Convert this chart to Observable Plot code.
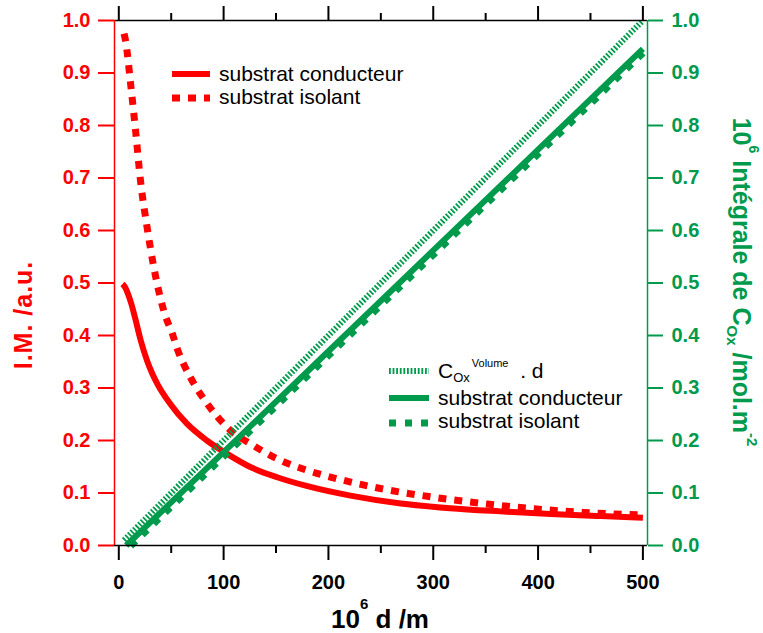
<!DOCTYPE html>
<html><head><meta charset="utf-8">
<script src="https://cdn.jsdelivr.net/npm/d3@7"></script>
<script src="https://cdn.jsdelivr.net/npm/@observablehq/plot@0.6"></script>
<style>body{margin:0;background:#fff} svg{display:block}</style>
</head><body><div id="chart"></div>
<script>
// ---- data ----
// I.M. /a.u. (left axis, red)
const dCond = [3.5, 6, 9, 12, 16, 21, 27, 32, 37, 49, 65, 84, 103, 126, 151, 180, 221, 269, 316, 364, 412, 460, 500];
const imCond = [0.498, 0.492, 0.478, 0.46, 0.43, 0.39, 0.352, 0.327, 0.307, 0.27, 0.232, 0.2, 0.175, 0.149, 0.13, 0.113, 0.095, 0.08, 0.071, 0.065, 0.06, 0.056, 0.053];
const dIso = [5, 6.4, 11.3, 16, 20.7, 27, 33.4, 44, 51, 55.7, 68.4, 84.4, 103.4, 128.8, 154.3, 180, 214.7, 259, 300, 351.5, 396, 443.7, 500];
const imIso = [0.975, 0.962, 0.879, 0.79, 0.695, 0.606, 0.53, 0.44, 0.404, 0.375, 0.32, 0.27, 0.225, 0.19, 0.162, 0.143, 0.124, 0.105, 0.092, 0.079, 0.07, 0.063, 0.058];
// 10^6 Intégrale de C_Ox /mol.m^-2 (right axis, green)
const dVol = [5, 100, 200, 300, 400, 500];
const cVol = [0.01, 0.2, 0.4, 0.6, 0.8, 1.0];
const dIntCond = [7, 100, 200, 300, 400, 500];
const cIntCond = [0.0, 0.178, 0.37, 0.562, 0.754, 0.946];
const dIntIso = [11, 100, 200, 300, 400, 500];
const cIntIso = [0.0, 0.171, 0.363, 0.555, 0.747, 0.939];
// ticks
const xTicks = [0, 100, 200, 300, 400, 500];
const xMinor = [50, 150, 250, 350, 450];
const yTicks = [0, 0.1, 0.2, 0.3, 0.4, 0.5, 0.6, 0.7, 0.8, 0.9, 1.0];
// texts
const redLegend = ["substrat conducteur", "substrat isolant"];
const greenLegend = ["substrat conducteur", "substrat isolant"];

const RED = "#ff0000", GREEN = "#009a4c";
const FONT = "'Liberation Sans', Arial, Helvetica, sans-serif";
const rows = (xs, ys) => xs.map((d, i) => ({d, v: ys[i]}));
const xDomain = [-4.1, 504.4];

const plot = Plot.plot({
  width: 763, height: 633,
  marginLeft: 114, marginRight: 116, marginTop: 20, marginBottom: 88,
  x: {domain: xDomain},
  y: {domain: [0, 1]},
  style: {fontFamily: FONT, background: "#fff", overflow: "visible"},
  marks: [
    Plot.line(rows(dIso, imIso), {x: "d", y: "v", stroke: RED, strokeWidth: 7, strokeDasharray: "8,8", strokeLinecap: "butt", curve: "monotone-x"}),
    Plot.line(rows(dCond, imCond), {x: "d", y: "v", stroke: RED, strokeWidth: 6, strokeLinecap: "butt", curve: "monotone-x"}),
    Plot.line(rows(dIntIso, cIntIso), {x: "d", y: "v", stroke: GREEN, strokeWidth: 8, strokeDasharray: "7,9", strokeLinecap: "butt"}),
    Plot.line(rows(dIntCond, cIntCond), {x: "d", y: "v", stroke: GREEN, strokeWidth: 6, strokeLinecap: "butt"}),
    Plot.line(rows(dVol, cVol), {x: "d", y: "v", stroke: GREEN, strokeWidth: 6, strokeDasharray: "1.8,1.8", strokeLinecap: "butt"}),
    // frame
    Plot.ruleY([0], {stroke: "black", strokeWidth: 1.5}),
    Plot.ruleY([1], {stroke: "black", strokeWidth: 1.5}),
    Plot.ruleX([xDomain[0]], {stroke: RED, strokeWidth: 1.5}),
    Plot.ruleX([xDomain[1]], {stroke: GREEN, strokeWidth: 1.5}),
    // axes
    Plot.axisX({anchor: "bottom", ticks: xTicks, tickSize: 15, tickPadding: 14, strokeWidth: 2, color: "black", fontSize: 20, fontWeight: "bold", label: null}),
    Plot.axisX({anchor: "bottom", ticks: xMinor, tickSize: 8, strokeWidth: 2, stroke: "black", fill: "none", label: null}),
    Plot.axisX({anchor: "top", ticks: xTicks, tickSize: 15, strokeWidth: 2, stroke: "black", fill: "none", label: null}),
    Plot.axisX({anchor: "top", ticks: xMinor, tickSize: 8, strokeWidth: 2, stroke: "black", fill: "none", label: null}),
    Plot.axisY({anchor: "left", ticks: yTicks, tickSize: 16, tickPadding: 8, strokeWidth: 2, color: RED, tickFormat: d3.format(".1f"), fontSize: 20, fontWeight: "bold", label: null}),
    Plot.axisY({anchor: "right", ticks: yTicks, tickSize: 15, tickPadding: 9, strokeWidth: 2, color: GREEN, tickFormat: d3.format(".1f"), fontSize: 20, fontWeight: "bold", label: null})
  ]
});
document.getElementById("chart").appendChild(plot);

const svg = d3.select(plot);
const g = svg.append("g").attr("font-family", FONT).attr("text-anchor", "start");

// x-axis title
const xt = g.append("text").attr("x", 380).attr("y", 628).attr("text-anchor", "middle")
  .attr("font-size", 26).attr("font-weight", "bold").attr("fill", "black");
xt.append("tspan").text("10");
xt.append("tspan").attr("font-size", 15).attr("dy", -19).text("6");
xt.append("tspan").attr("dy", 19).text(" d /m");

// left axis title
g.append("text").attr("transform", "translate(32,315) rotate(-90)").attr("text-anchor", "middle")
  .attr("font-size", 25).attr("font-weight", "bold").attr("fill", RED).attr("letter-spacing", 1).text("I.M. /a.u.");

// right axis title
const rt = g.append("text").attr("transform", "translate(733,282) rotate(90)").attr("text-anchor", "middle")
  .attr("font-size", 25).attr("font-weight", "bold").attr("fill", GREEN);
rt.append("tspan").text("10");
rt.append("tspan").attr("font-size", 14).attr("dy", -16).text("6");
rt.append("tspan").attr("dy", 16).text(" Intégrale de C");
rt.append("tspan").attr("font-size", 15).attr("dy", 6).text("Ox");
rt.append("tspan").attr("dy", -6).text(" /mol.m");
rt.append("tspan").attr("font-size", 15).attr("dy", -14).text("-2");

// red legend
const leg = g.append("g").attr("font-size", 21).attr("fill", "black").attr("text-anchor", "start");
leg.append("line").attr("x1", 172).attr("x2", 210).attr("y1", 74).attr("y2", 74).attr("stroke", RED).attr("stroke-width", 6);
leg.append("line").attr("x1", 172).attr("x2", 210).attr("y1", 98).attr("y2", 98).attr("stroke", RED).attr("stroke-width", 7).attr("stroke-dasharray", "8,8");
leg.append("text").attr("x", 219).attr("y", 81).text(redLegend[0]);
leg.append("text").attr("x", 219).attr("y", 104).text(redLegend[1]);

// green legend
leg.append("line").attr("x1", 389).attr("x2", 429).attr("y1", 371).attr("y2", 371).attr("stroke", GREEN).attr("stroke-width", 6).attr("stroke-dasharray", "1.8,1.8");
leg.append("line").attr("x1", 389).attr("x2", 429).attr("y1", 398).attr("y2", 398).attr("stroke", GREEN).attr("stroke-width", 6);
leg.append("line").attr("x1", 389).attr("x2", 429).attr("y1", 423).attr("y2", 423).attr("stroke", GREEN).attr("stroke-width", 7).attr("stroke-dasharray", "7,9");
const ct = leg.append("text").attr("x", 438).attr("y", 378);
ct.append("tspan").text("C");
ct.append("tspan").attr("font-size", 13).attr("dy", 4).text("Ox");
ct.append("tspan").attr("font-size", 11).attr("dx", 2).attr("dy", -15).text("Volume");
ct.append("tspan").attr("dy", 11).text("  . d");
leg.append("text").attr("x", 438).attr("y", 405).text(greenLegend[0]);
leg.append("text").attr("x", 438).attr("y", 428).text(greenLegend[1]);
</script>
</body></html>
